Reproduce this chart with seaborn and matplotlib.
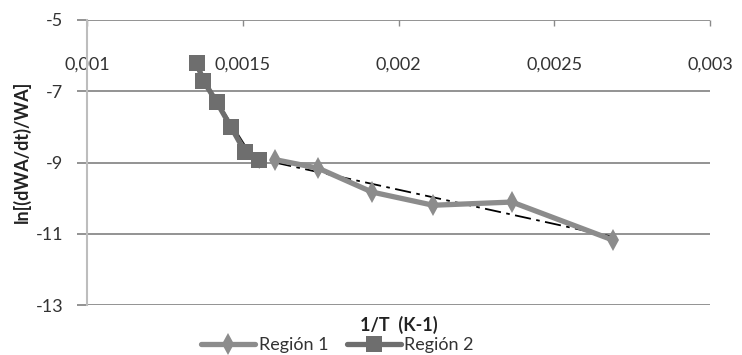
import seaborn as sns
import matplotlib.pyplot as plt
import pandas as pd

# values
region1_x = [0.001604, 0.001742, 0.001915, 0.002111, 0.002364, 0.002689]
region1_y = [-8.92, -9.16, -9.83, -10.20, -10.11, -11.18]
region2_x = [0.001352, 0.001373, 0.001416, 0.001462, 0.001507, 0.001553]
region2_y = [-6.20, -6.70, -7.30, -8.00, -8.70, -8.92]
x_ticks = [0.001, 0.0015, 0.002, 0.0025, 0.003]
x_tick_labels = ['0,001', '0,0015', '0,002', '0,0025', '0,003']
y_ticks = [-5, -7, -9, -11, -13]

df1 = pd.DataFrame({'x': region1_x, 'y': region1_y})
df2 = pd.DataFrame({'x': region2_x, 'y': region2_y})

sns.set_theme(style='white')
plt.rcParams['font.family'] = ['Lato', 'DejaVu Sans']
plt.rcParams['axes.unicode_minus'] = False

fig = plt.figure(figsize=(7.42, 3.55), dpi=100)
ax = fig.add_axes([0.1173, 0.1408, 0.8397, 0.8029])

grid_col = '#8a8a8a'
for yv in y_ticks:
  ax.axhline(yv, color=grid_col, lw=1.3, zorder=0)

sns.lineplot(data=df1, x='x', y='y', sort=False, color='#8c8c8c', lw=3.8,
             marker='d', markersize=11, markeredgewidth=0, label='Región 1', ax=ax, zorder=3)
sns.lineplot(data=df2, x='x', y='y', sort=False, color='#6e6e6e', lw=3.8,
             marker='s', markersize=12, markeredgewidth=0, label='Región 2', ax=ax, zorder=3)

# linear trend lines
sns.regplot(data=df1, x='x', y='y', scatter=False, ci=None, color='black',
            line_kws=dict(lw=1.3, ls=(0, (9, 3, 2, 3))), ax=ax)
sns.regplot(data=df2, x='x', y='y', scatter=False, ci=None, color='#222222',
            line_kws=dict(lw=1.0), ax=ax)

ax.set_xlim(0.001, 0.003)
ax.set_ylim(-13, -5)
ax.set_xticks(x_ticks, x_tick_labels)
ax.set_yticks(y_ticks)
ax.tick_params(axis='x', bottom=False, labelbottom=False, top=True, labeltop=True,
               direction='in', length=4, width=1, color=grid_col, pad=-38,
               labelsize=13, labelcolor='#333333')
ax.tick_params(axis='y', left=True, direction='out', length=7, width=1.3,
               color=grid_col, pad=10, labelsize=13, labelcolor='#333333')

for s in ['top', 'right', 'bottom']:
  ax.spines[s].set_visible(False)
ax.spines['left'].set_color('#bdbdbd')
ax.spines['left'].set_linewidth(1.5)

ax.set_xlabel('')
ax.set_ylabel('')
fig.text(0.029, 0.572, 'ln[(dWA/dt)/WA]', rotation=90, ha='center', va='center',
         fontsize=13, fontweight='bold', color='#222222')
fig.text(0.537, 0.085, '1/T  (K-1)', ha='center', va='center',
         fontsize=13, fontweight='bold', color='#222222')

handles, labels = ax.get_legend_handles_labels()
ax.legend_.remove()
fig.legend(handles[:2], labels[:2], loc='center', bbox_to_anchor=(0.455, 0.028),
           ncol=2, frameon=False, fontsize=13, handlelength=3, columnspacing=1.0,
           handletextpad=0.2, labelcolor='#333333')

plt.savefig('out.png', dpi=100)
